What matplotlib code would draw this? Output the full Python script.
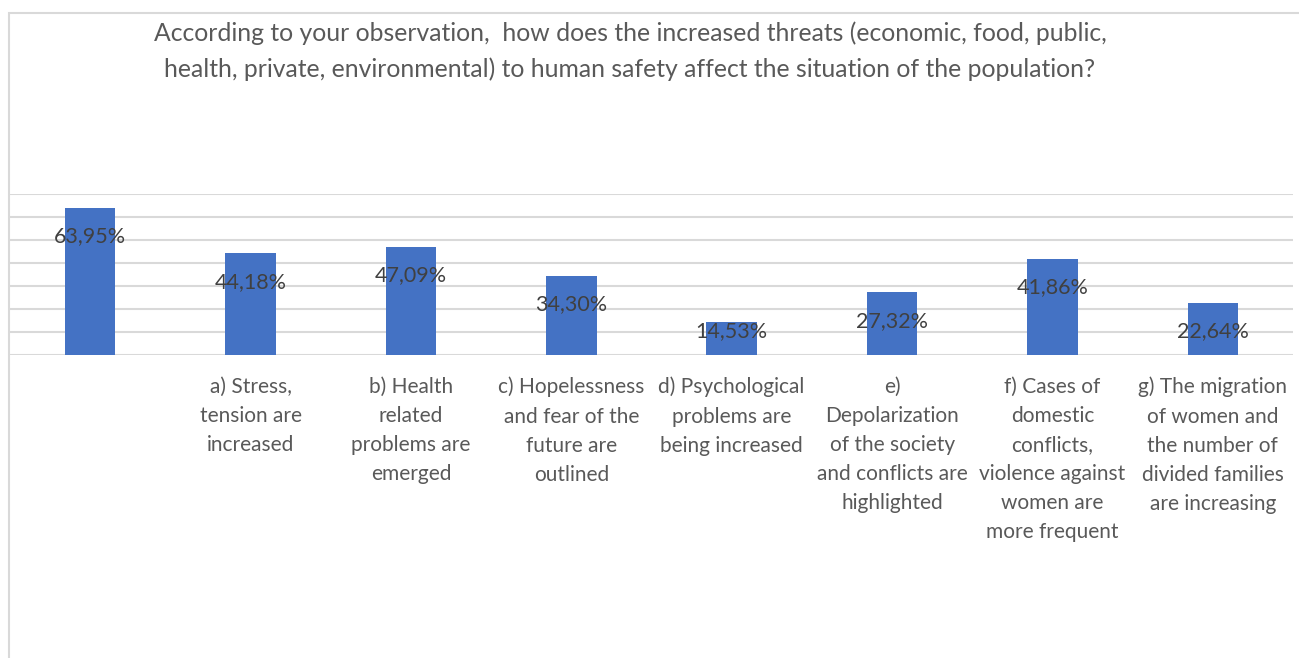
import matplotlib
matplotlib.use("Agg")
import matplotlib.pyplot as plt
from matplotlib.patches import Rectangle

# Survey results (percent of respondents)
categories = [
    "",
    "a) Stress,\ntension are\nincreased",
    "b) Health\nrelated\nproblems are\nemerged",
    "c) Hopelessness\nand fear of the\nfuture are\noutlined",
    "d) Psychological\nproblems are\nbeing increased",
    "e)\nDepolarization\nof the society\nand conflicts are\nhighlighted",
    "f) Cases of\ndomestic\nconflicts,\nviolence against\nwomen are\nmore frequent",
    "g) The migration\nof women and\nthe number of\ndivided families\nare increasing",
]
values = [63.95, 44.18, 47.09, 34.30, 14.53, 27.32, 41.86, 22.64]
value_labels = ["63,95%", "44,18%", "47,09%", "34,30%", "14,53%", "27,32%", "41,86%", "22,64%"]

title = ("According to your observation,  how does the increased threats (economic, food, public,\n"
         "health, private, environmental) to human safety affect the situation of the population?")

FONT = "Lato"
W, H = 1299, 658
fig = plt.figure(figsize=(W / 100, H / 100), dpi=100)
fig.patch.set_facecolor("white")

# chart-area border (only top and left edges fall inside the image)
fig.patches.append(Rectangle((9 / W, -0.1), 1.2, (H - 13) / H + 0.1,
                             transform=fig.transFigure, fill=False,
                             edgecolor="#D9D9D9", linewidth=1.5))

ax = fig.add_axes([10 / W, (H - 355.3) / H, (1293 - 10) / W, (355.3 - 193.7) / H])
x = list(range(len(values)))
ax.bar(x, values, width=0.315, color="#4472C4", zorder=3)
ax.set_xlim(-0.5, len(values) - 0.5)
ax.set_ylim(0, 70)
ax.set_yticks(range(0, 71, 10))
ax.yaxis.grid(True, color="#D9D9D9", linewidth=1.5, zorder=0)
ax.tick_params(axis="y", left=False, labelleft=False)
ax.tick_params(axis="x", bottom=False, pad=12)
for s in ax.spines.values():
    s.set_visible(False)
ax.set_xticks(x)
ax.set_xticklabels(categories, fontsize=15, color="#595959", family=FONT,
                   linespacing=1.57, va="top")

for xi, v, lab in zip(x, values, value_labels):
    y = max(v - 12.3, 10.7)
    ax.text(xi, y, lab, ha="center", va="center", fontsize=15.5,
            color="#404040", family=FONT, zorder=4)

fig.text(630 / W, 1 - 51.5 / H, title, ha="center", va="center", fontsize=17.8,
         color="#595959", family=FONT, linespacing=1.63)

fig.savefig("out.png", dpi=100, facecolor="white")
